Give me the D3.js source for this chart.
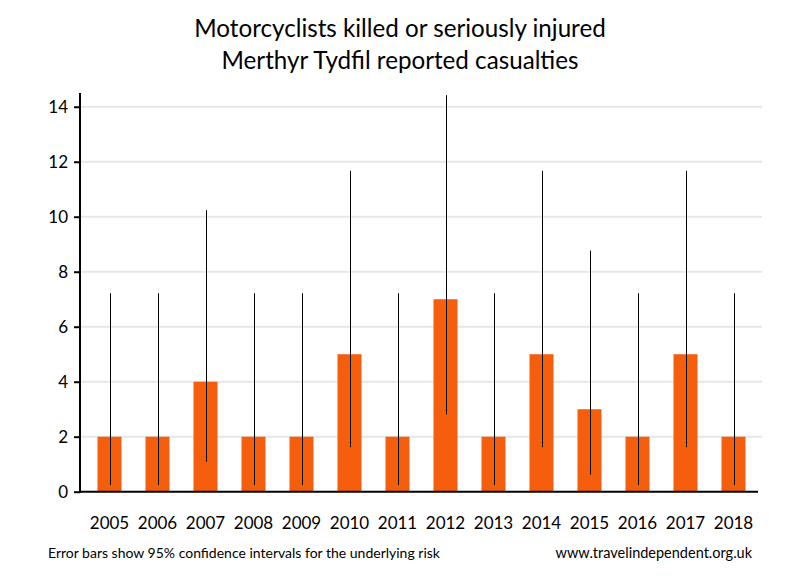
<!DOCTYPE html>
<html><head><meta charset="utf-8">
<script src="https://cdn.jsdelivr.net/npm/d3@7"></script>
<style>body{margin:0;background:#fff;} svg{display:block;}</style>
</head><body>
<svg id="c" width="800" height="580"></svg>
<script>
const years = ["2005","2006","2007","2008","2009","2010","2011","2012","2013","2014","2015","2016","2017","2018"];
const casualties = [2,2,4,2,2,5,2,7,2,5,3,2,5,2];
const ciLow  = [0.24,0.24,1.09,0.24,0.24,1.62,0.24,2.81,0.24,1.62,0.62,0.24,1.62,0.24];
const ciHigh = [7.22,7.22,10.24,7.22,7.22,11.67,7.22,14.42,7.22,11.67,8.77,7.22,11.67,7.22];
const yTicks = [0,2,4,6,8,10,12,14];
const titleLines = ["Motorcyclists killed or seriously injured","Merthyr Tydfil reported casualties"];
const footLeft = "Error bars show 95% confidence intervals for the underlying risk";
const footRight = "www.travelindependent.org.uk";

const font = "Lato, 'Open Sans', sans-serif";
const svg = d3.select("#c");
const x = d3.scaleBand().domain(years).range([85.5, 757.5]).paddingInner(0.5).paddingOuter(0.25);
const y = d3.scaleLinear().domain([0, 14.5]).range([491.7, 93]);

// gridlines
svg.append("g").selectAll("line").data(yTicks.filter(d=>d>0)).join("line")
  .attr("x1", 80).attr("x2", 762).attr("y1", d=>y(d)).attr("y2", d=>y(d))
  .attr("stroke", "#e6e6e6").attr("stroke-width", 2);

// bars
svg.append("g").selectAll("rect").data(casualties).join("rect")
  .attr("x", (d,i)=>x(years[i])).attr("width", x.bandwidth())
  .attr("y", d=>y(d)).attr("height", d=>y(0)-y(d))
  .attr("fill", "#f55e0d");

// error bars
svg.append("g").selectAll("line").data(years).join("line")
  .attr("x1", d=>Math.round(x(d)+x.bandwidth()/2)+0.5).attr("x2", d=>Math.round(x(d)+x.bandwidth()/2)+0.5)
  .attr("y1", (d,i)=>y(ciLow[i])).attr("y2", (d,i)=>y(ciHigh[i]))
  .attr("stroke", "#000").attr("stroke-width", 1);

// y axis
const ya = svg.append("g").attr("transform", "translate(80,0)")
  .call(d3.axisLeft(y).tickValues(yTicks).tickSize(6).tickPadding(6).tickFormat(d3.format("d")));
ya.select(".domain").attr("stroke-width", 2).attr("d", `M0,${y(0)+1}V${y(14.5)}`);
ya.selectAll(".tick line").attr("stroke-width", 2);
ya.selectAll("text").attr("font-family", font).attr("font-size", 17).attr("fill", "#000");

// x axis
const xa = svg.append("g").attr("transform", `translate(0,${y(0)})`)
  .call(d3.axisBottom(x).tickSize(0).tickPadding(25));
xa.select(".domain").attr("stroke-width", 2).attr("d", "M79,0H758");
xa.selectAll("text").attr("font-family", font).attr("font-size", 17).attr("fill", "#000");

// title
svg.append("g").selectAll("text").data(titleLines).join("text")
  .attr("x", 400).attr("y", (d,i)=>37+i*32).attr("text-anchor", "middle")
  .attr("font-family", font).attr("font-size", 24.2).attr("fill", "#000").text(d=>d);

svg.append("text").attr("x", 48).attr("y", 558).attr("font-family", font).attr("font-size", 14).text(footLeft);
svg.append("text").attr("x", 752).attr("y", 558).attr("text-anchor", "end").attr("font-family", font).attr("font-size", 14.5).text(footRight);
</script>
</body></html>
